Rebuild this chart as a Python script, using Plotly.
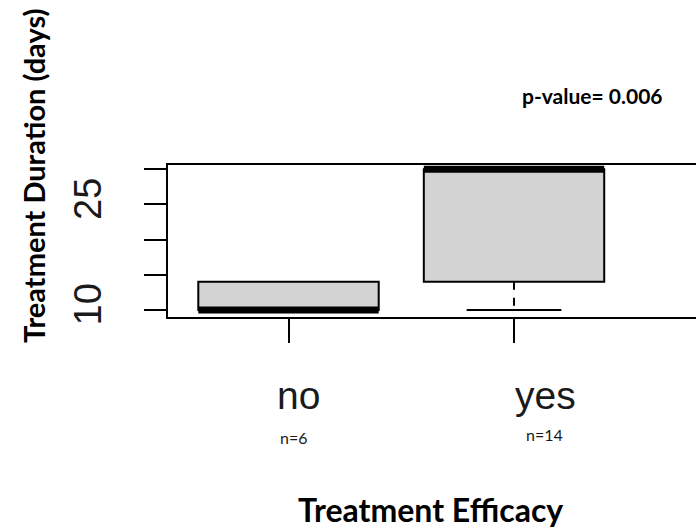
import plotly.graph_objects as go

# ---- data ----
categories = ["no", "yes"]
positions = [1, 2]
q1 = [10, 14]
median = [10, 30]
q3 = [14, 30]
lower_whisker = [10, 10]
upper_whisker = [14, 30]
n_counts = [6, 14]
y_tickvals = [10, 15, 20, 25, 30]
y_ticktext = ["10", "", "", "25", ""]
p_value_text = "p-value= 0.006"

BOX_W = 0.8
CAP_W = 0.42

W, H = 696, 529
L, R, T, B = 167, 0, 164, 211
PW, PH = W - L - R, H - T - B


def px_x(px):
    return (px - L) / PW


def px_y(py):
    return (T + PH - py) / PH


fig = go.Figure()

# boxes (body only; whiskers drawn separately so they can be dashed like R)
fig.add_trace(go.Box(
    x=positions, q1=q1, median=median, q3=q3,
    lowerfence=q1, upperfence=q3,
    width=BOX_W, whiskerwidth=0,
    fillcolor="#d3d3d3",
    line=dict(color="black", width=2),
    boxpoints=False, showlegend=False, hoverinfo="skip",
))

for i, xc in enumerate(positions):
    # thick median bar
    fig.add_trace(go.Scatter(
        x=[xc - BOX_W / 2, xc + BOX_W / 2], y=[median[i], median[i]],
        mode="lines", line=dict(color="black", width=7),
        showlegend=False, hoverinfo="skip"))
    if lower_whisker[i] < q1[i]:
        fig.add_trace(go.Scatter(
            x=[xc, xc], y=[q1[i], lower_whisker[i]], mode="lines",
            line=dict(color="black", width=2, dash="8px,8px"),
            showlegend=False, hoverinfo="skip"))
        fig.add_trace(go.Scatter(
            x=[xc - CAP_W / 2, xc + CAP_W / 2], y=[lower_whisker[i]] * 2,
            mode="lines", line=dict(color="black", width=2),
            showlegend=False, hoverinfo="skip"))
    if upper_whisker[i] > q3[i]:
        fig.add_trace(go.Scatter(
            x=[xc, xc], y=[q3[i], upper_whisker[i]], mode="lines",
            line=dict(color="black", width=2, dash="8px,8px"),
            showlegend=False, hoverinfo="skip"))
        fig.add_trace(go.Scatter(
            x=[xc - CAP_W / 2, xc + CAP_W / 2], y=[upper_whisker[i]] * 2,
            mode="lines", line=dict(color="black", width=2),
            showlegend=False, hoverinfo="skip"))

# plot frame (right side runs off the picture)
fig.add_shape(type="rect", xref="paper", yref="paper", x0=0, x1=1.2, y0=0, y1=1,
              line=dict(color="black", width=2), fillcolor="rgba(0,0,0,0)", layer="above")

# category labels and counts
label_px = [298, 545]
n_px = [(294, 437), (544, 434)]
for i, xc in enumerate(positions):
    fig.add_annotation(x=px_x(label_px[i]), y=px_y(395), xref="paper", yref="paper",
                       text=categories[i], showarrow=False, xanchor="center", yanchor="middle",
                       font=dict(family="Liberation Sans, Arial", size=39, color="#1a1a1a"))
    fig.add_annotation(x=px_x(n_px[i][0]), y=px_y(n_px[i][1]), xref="paper", yref="paper",
                       text=f"n={n_counts[i]}", showarrow=False, xanchor="center", yanchor="middle",
                       font=dict(family="Lato, Carlito, Calibri", size=16, color="#1a1a1a"))

# axis titles and p-value
fig.add_annotation(x=px_x(430), y=px_y(509), xref="paper", yref="paper",
                   text="<b>Treatment Efficacy</b>", showarrow=False,
                   xanchor="center", yanchor="middle",
                   font=dict(family="Lato, Carlito, Calibri", size=32, color="black"))
fig.add_annotation(x=px_x(33), y=px_y(176), xref="paper", yref="paper",
                   text="<b>Treatment Duration (days)</b>", showarrow=False, textangle=-90,
                   xanchor="center", yanchor="middle",
                   font=dict(family="Lato, Carlito, Calibri", size=29, color="black"))
fig.add_annotation(x=px_x(592), y=px_y(95), xref="paper", yref="paper",
                   text="<b>" + p_value_text + "</b>", showarrow=False,
                   xanchor="center", yanchor="middle",
                   font=dict(family="Lato, Carlito, Calibri", size=21, color="black"))

fig.update_layout(
    width=W, height=H,
    margin=dict(l=L, r=R, t=T, b=B, pad=0),
    paper_bgcolor="white", plot_bgcolor="white",
    showlegend=False,
    xaxis=dict(range=[0.4612, 2.807], tickvals=positions, showticklabels=False,
               ticks="outside", ticklen=24, tickwidth=2, tickcolor="black",
               showgrid=False, zeroline=False, showline=False, fixedrange=True),
    yaxis=dict(range=[8.863, 30.753], tickvals=y_tickvals, ticktext=y_ticktext,
               ticks="outside", ticklen=22, tickwidth=2, tickcolor="black",
               tickangle=-90, ticklabelstandoff=28,
               tickfont=dict(family="Liberation Sans, Arial", size=38, color="#1a1a1a"),
               showgrid=False, zeroline=False, showline=False, fixedrange=True),
)

fig.write_html("out.html", config={"displayModeBar": False},
               post_script="document.body.style.margin='0';")
